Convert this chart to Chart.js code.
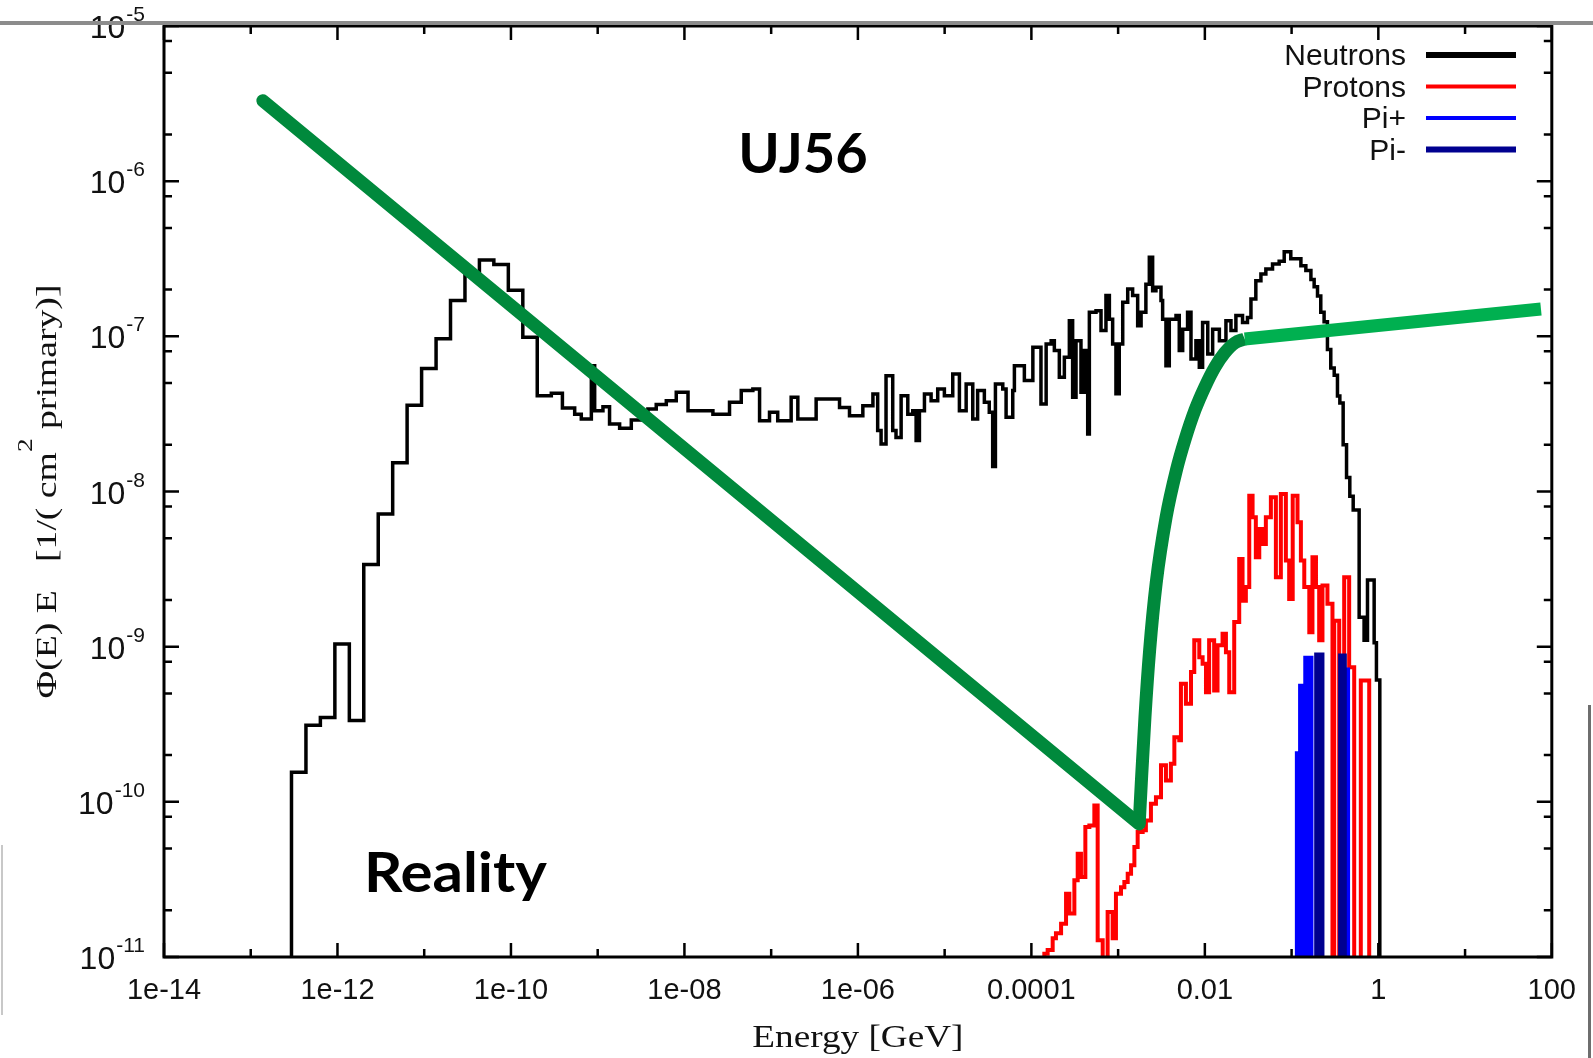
<!DOCTYPE html>
<html>
<head>
<meta charset="utf-8">
<title>UJ56 - energy spectra</title>
<script src="https://cdn.jsdelivr.net/npm/chart.js@4.4.1/dist/chart.umd.min.js"></script>
<style>
  html, body { margin: 0; padding: 0; background: #fff; }
  canvas { display: block; }
</style>
</head>
<body>
<canvas id="spectrum" width="1593" height="1058"></canvas>
<script>
// axis ticks
const energyTicks = [1e-14, 1e-12, 1e-10, 1e-8, 1e-6, 1e-4, 1e-2, 1, 100];
const energyTickLabels = ['1e-14', '1e-12', '1e-10', '1e-08', '1e-06', '0.0001', '0.01', '1', '100'];
const fluxTicks = [1e-11, 1e-10, 1e-9, 1e-8, 1e-7, 1e-6, 1e-5];
const fluxTickExponents = ['-11', '-10', '-9', '-8', '-7', '-6', '-5'];

// neutrons: left bin edge [GeV] and flux of that bin
const neutronEnergy = [
  2.95e-13, 2.95e-13, 4.33e-13, 6.35e-13, 9.33e-13, 1.37e-12, 2.01e-12, 2.95e-12, 4.33e-12, 6.35e-12,
  9.33e-12, 1.37e-11, 2.01e-11, 2.95e-11, 4.33e-11, 6.35e-11, 9.33e-11, 1.37e-10, 2.01e-10, 2.92e-10,
  3.92e-10, 5.43e-10, 6.47e-10, 8.45e-10, 9.23e-10, 1.15e-9, 1.37e-9, 1.79e-9, 2.44e-9, 3.79e-9,
  4.73e-9, 6.18e-9, 8.05e-9, 1.10e-8, 2.13e-8, 3.31e-8, 4.52e-8, 6.15e-8, 7.35e-8, 9.57e-8,
  1.19e-7, 1.70e-7, 2.03e-7, 3.30e-7, 6.14e-7, 8.00e-7, 1.14e-6, 1.49e-6, 1.69e-6, 1.85e-6,
  2.11e-6, 2.52e-6, 2.75e-6, 3.15e-6, 3.76e-6, 4.29e-6, 4.69e-6, 5.12e-6, 5.85e-6, 6.98e-6,
  8.32e-6, 9.93e-6, 1.24e-5, 1.48e-5, 1.77e-5, 2.11e-5, 2.40e-5, 2.87e-5, 3.27e-5, 3.58e-5,
  3.85e-5, 4.68e-5, 5.11e-5, 6.10e-5, 6.37e-5, 8.30e-5, 1.04e-4, 1.29e-4, 1.48e-4, 1.69e-4,
  1.84e-4, 2.10e-4, 2.40e-4, 2.74e-4, 2.99e-4, 3.27e-4, 3.73e-4, 4.08e-4, 4.46e-4, 4.66e-4,
  5.56e-4, 6.35e-4, 7.24e-4, 7.93e-4, 8.65e-4, 9.44e-4, 1.03e-3, 1.13e-3, 1.29e-3, 1.47e-3,
  1.68e-3, 1.84e-3, 2.09e-3, 2.29e-3, 2.50e-3, 2.73e-3, 3.12e-3, 3.26e-3, 3.56e-3, 3.89e-3,
  4.65e-3, 5.07e-3, 5.55e-3, 6.32e-3, 6.92e-3, 7.89e-3, 8.63e-3, 9.42e-3, 1.08e-2, 1.23e-2,
  1.47e-2, 1.75e-2, 2.00e-2, 2.28e-2, 2.72e-2, 3.10e-2, 3.40e-2, 3.87e-2, 4.43e-2, 5.05e-2,
  6.03e-2, 7.19e-2, 8.22e-2, 9.79e-2, 0.128, 0.146, 0.167, 0.182, 0.199, 0.217,
  0.237, 0.259, 0.283, 0.310, 0.338, 0.360, 0.393, 0.430, 0.469, 0.513,
  0.601, 0.685, 0.750, 0.895, 0.951, 1.04
];
const neutronFlux = [
  1e-12, 1.55e-10, 3.12e-10, 3.50e-10, 1.04e-9, 3.34e-10, 3.38e-9, 7.16e-9, 1.53e-8, 3.60e-8,
  6.21e-8, 9.66e-8, 1.70e-7, 2.47e-7, 3.10e-7, 2.90e-7, 1.98e-7, 9.86e-8, 4.14e-8, 4.30e-8,
  3.45e-8, 3.15e-8, 2.93e-8, 6.47e-8, 3.32e-8, 3.52e-8, 2.72e-8, 2.56e-8, 2.89e-8, 3.40e-8,
  3.63e-8, 3.85e-8, 4.36e-8, 3.32e-8, 3.15e-8, 3.76e-8, 4.47e-8, 4.57e-8, 2.86e-8, 3.24e-8,
  2.86e-8, 4.05e-8, 2.93e-8, 3.94e-8, 3.48e-8, 3.08e-8, 3.57e-8, 4.25e-8, 2.47e-8, 2.02e-8,
  5.57e-8, 2.47e-8, 2.23e-8, 4.14e-8, 3.15e-8, 3.32e-8, 2.13e-8, 3.32e-8, 4.25e-8, 3.85e-8,
  4.57e-8, 4.14e-8, 5.71e-8, 3.32e-8, 4.93e-8, 2.93e-8, 4.47e-8, 3.76e-8, 3.24e-8, 1.45e-8,
  4.93e-8, 4.58e-8, 3.01e-8, 4.47e-8, 6.47e-8, 5.19e-8, 8.49e-8, 3.66e-8, 8.93e-8, 9.38e-8,
  8.09e-8, 5.45e-8, 7.33e-8, 1.26e-7, 4.05e-8, 9.38e-8, 4.36e-8, 8.09e-8, 2.35e-8, 1.43e-7,
  1.46e-7, 1.09e-7, 1.83e-7, 1.29e-7, 8.93e-8, 4.26e-8, 8.93e-8, 1.66e-7, 2.02e-7, 1.83e-7,
  1.17e-7, 1.43e-7, 2.17e-7, 3.23e-7, 1.97e-7, 2.07e-7, 1.70e-7, 1.29e-7, 6.47e-8, 1.29e-7,
  1.36e-7, 8.09e-8, 1.11e-7, 1.43e-7, 7.14e-8, 9.38e-8, 6.31e-8, 1.23e-7, 7.69e-8, 1.11e-7,
  9.38e-8, 1.26e-7, 1.09e-7, 1.36e-7, 1.23e-7, 1.32e-7, 1.74e-7, 2.28e-7, 2.52e-7, 2.72e-7,
  2.92e-7, 3.05e-7, 3.51e-7, 3.16e-7, 2.85e-7, 2.66e-7, 2.32e-7, 2.09e-7, 1.82e-7, 1.43e-7,
  1.24e-7, 8.22e-8, 6.24e-8, 5.62e-8, 4.12e-8, 3.72e-8, 2.00e-8, 1.23e-8, 9.33e-9, 7.59e-9,
  1.55e-9, 1.10e-9, 2.69e-9, 1.06e-9, 6.10e-10, 1e-12
];

// protons
const protonEnergy = [
  1.41e-4, 1.41e-4, 1.54e-4, 1.76e-4, 1.92e-4, 2.20e-4, 2.51e-4, 2.74e-4, 3.13e-4, 3.42e-4,
  3.73e-4, 4.19e-4, 4.66e-4, 5.32e-4, 5.81e-4, 6.64e-4, 7.57e-4, 8.65e-4, 9.44e-4, 1.08e-3,
  1.18e-3, 1.29e-3, 1.41e-3, 1.54e-3, 1.68e-3, 1.92e-3, 2.09e-3, 2.39e-3, 2.73e-3, 3.12e-3,
  3.56e-3, 4.06e-3, 4.45e-3, 5.07e-3, 5.30e-3, 6.05e-3, 6.92e-3, 7.55e-3, 8.63e-3, 9.42e-3,
  1.03e-2, 1.12e-2, 1.28e-2, 1.40e-2, 1.60e-2, 1.75e-2, 1.91e-2, 2.18e-2, 2.49e-2, 2.72e-2,
  2.97e-2, 3.25e-2, 3.55e-2, 3.87e-2, 4.24e-2, 4.62e-2, 5.05e-2, 5.77e-2, 6.59e-2, 7.52e-2,
  8.59e-2, 9.38e-2, 0.103, 0.117, 0.128, 0.140, 0.160, 0.174, 0.191, 0.208,
  0.227, 0.259, 0.296, 0.310, 0.354, 0.404, 0.461, 0.527, 0.628, 0.785
];
const protonFlux = [
  5e-12, 1.05e-11, 1.11e-11, 1.32e-11, 1.42e-11, 1.64e-11, 2.56e-11, 1.91e-11, 3.12e-11, 4.63e-11,
  3.28e-11, 6.89e-11, 7.05e-11, 9.48e-11, 1.28e-11, 5e-12, 1.95e-11, 1.32e-11, 2.56e-11, 2.82e-11,
  3.04e-11, 3.44e-11, 3.90e-11, 5.12e-11, 6.38e-11, 6.55e-11, 7.59e-11, 9.72e-11, 1.07e-10, 1.72e-10,
  1.37e-10, 1.76e-10, 2.61e-10, 2.49e-10, 5.77e-10, 4.29e-10, 6.86e-10, 1.10e-9, 8.55e-10, 7.75e-10,
  5.09e-10, 1.10e-9, 5.22e-10, 1.02e-9, 1.21e-9, 9.20e-10, 5.09e-10, 1.44e-9, 3.67e-9, 1.98e-9,
  2.42e-9, 9.40e-9, 6.82e-9, 3.77e-9, 5.74e-9, 4.59e-9, 6.82e-9, 9.18e-9, 2.80e-9, 9.64e-9,
  3.59e-9, 2.03e-9, 9.40e-9, 6.34e-9, 3.59e-9, 2.42e-9, 1.24e-9, 3.77e-9, 2.42e-9, 1.10e-9,
  2.48e-9, 1.89e-9, 5e-12, 1.47e-9, 5e-12, 2.80e-9, 7.38e-10, 5e-12, 6.05e-10, 5e-12
];

// charged pions
const piPlusEnergy = [0.112, 0.112, 0.122, 0.140, 0.174, 0.422, 0.460];
const piPlusFlux = [5e-12, 2.09e-10, 5.69e-10, 8.61e-10, 5e-12, 7.24e-10, 5e-12];
const piMinusEnergy = [0.187, 0.187, 0.233, 0.353, 0.422];
const piMinusFlux = [5e-12, 9.04e-10, 5e-12, 8.91e-10, 5e-12];

// hand-drawn "reality" curve
const dropEnergy = [1.38e-13, 1.75e-3];
const dropFlux = [3.3e-6, 7.2e-11];
const riseEnergy = [1.75e-3, 1.85e-3, 2.04e-3, 2.31e-3, 2.75e-3, 3.58e-3, 4.71e-3, 5.89e-3, 7.71e-3, 1.00e-2, 1.31e-2, 1.69e-2, 2.21e-2, 2.88e-2];
const riseFlux = [7.2e-11, 1.32e-10, 3.53e-10, 9.53e-10, 2.58e-9, 6.86e-9, 1.38e-8, 2.15e-8, 3.36e-8, 4.72e-8, 6.35e-8, 7.82e-8, 9.06e-8, 9.62e-8];
const plateauEnergy = [2.88e-2, 75];
const plateauFlux = [9.62e-8, 1.50e-7];

const points = (xs, ys) => xs.map((v, i) => ({x: v, y: ys[i]}));

const SANS = '"Liberation Sans", Arial, sans-serif';
const SERIF = '"Liberation Serif", "Times New Roman", serif';

const decorations = {
  id: 'decorations',
  afterDraw(chart) {
    const ctx = chart.ctx;
    const a = chart.chartArea;
    const xs = chart.scales.x;
    const ys = chart.scales.y;
    ctx.save();

    // frame and inward ticks
    ctx.strokeStyle = '#000';
    ctx.lineWidth = 3;
    ctx.strokeRect(a.left, a.top, a.right - a.left, a.bottom - a.top);
    ctx.lineWidth = 2.5;
    ctx.beginPath();
    for (let e = -14; e <= 2; e++) {
      const px = xs.getPixelForValue(Math.pow(10, e));
      const len = e % 2 === 0 ? 14 : 8;
      ctx.moveTo(px, a.bottom); ctx.lineTo(px, a.bottom - len);
      ctx.moveTo(px, a.top); ctx.lineTo(px, a.top + len);
    }
    for (let e = -11; e <= -5; e++) {
      const py = ys.getPixelForValue(Math.pow(10, e));
      ctx.moveTo(a.left, py); ctx.lineTo(a.left + 15, py);
      ctx.moveTo(a.right, py); ctx.lineTo(a.right - 15, py);
      if (e < -5) {
        for (const m of [2, 5, 8]) {
          const pm = ys.getPixelForValue(m * Math.pow(10, e));
          ctx.moveTo(a.left, pm); ctx.lineTo(a.left + 8, pm);
          ctx.moveTo(a.right, pm); ctx.lineTo(a.right - 8, pm);
        }
      }
    }
    ctx.stroke();

    // y tick labels 10^n
    ctx.fillStyle = '#111';
    ctx.textAlign = 'right';
    ctx.textBaseline = 'alphabetic';
    fluxTicks.forEach((v, i) => {
      const py = ys.getPixelForValue(v);
      ctx.font = '21px ' + SANS;
      const ew = ctx.measureText(fluxTickExponents[i]).width;
      ctx.fillText(fluxTickExponents[i], 145, py - 5);
      ctx.font = '32px ' + SANS;
      ctx.fillText('10', 144 - ew, py + 12);
    });

    // y axis title
    ctx.save();
    ctx.translate(56, (a.top + a.bottom) / 2);
    ctx.rotate(-Math.PI / 2);
    ctx.scale(1.3, 1);
    ctx.textAlign = 'left';
    const t1 = '\u03A6(E) E   [1/( cm';
    const t2 = ' primary)]';
    ctx.font = '29px ' + SERIF;
    const w1 = ctx.measureText(t1).width;
    const w3 = ctx.measureText(t2).width;
    ctx.font = '21px ' + SERIF;
    const w2 = ctx.measureText('2').width;
    const tx = -(w1 + w2 + w3) / 2;
    ctx.font = '29px ' + SERIF;
    ctx.fillText(t1, tx, 0);
    ctx.font = '21px ' + SERIF;
    ctx.fillText('2', tx + w1, -24);
    ctx.font = '29px ' + SERIF;
    ctx.fillText(t2, tx + w1 + w2, 0);
    ctx.restore();

    // x axis title
    ctx.save();
    ctx.translate((a.left + a.right) / 2, 1047);
    ctx.scale(1.2, 1);
    ctx.textAlign = 'center';
    ctx.font = '31px ' + SERIF;
    ctx.fillText('Energy [GeV]', 0, 0);
    ctx.restore();

    // legend
    ctx.textAlign = 'right';
    ctx.font = '30px ' + SANS;
    chart.data.datasets.filter(d => d.inLegend).forEach((d, i) => {
      const ly = 55 + i * 31.5;
      ctx.fillStyle = '#111';
      ctx.fillText(d.label, 1406, ly + 10);
      ctx.strokeStyle = d.borderColor;
      ctx.lineWidth = d.legendWidth;
      ctx.beginPath();
      ctx.moveTo(1426, ly);
      ctx.lineTo(1516, ly);
      ctx.stroke();
    });

    // annotations
    ctx.fillStyle = '#000';
    ctx.font = 'bold 56px Lato, "Open Sans", sans-serif';
    ctx.textAlign = 'center';
    ctx.fillText('UJ56', 803, 173);
    ctx.save();
    ctx.translate(364, 892);
    ctx.scale(1.07, 1);
    ctx.textAlign = 'left';
    ctx.fillText('Reality', 0, 0);
    ctx.restore();

    // slide edges
    ctx.fillStyle = '#8c8c8c';
    ctx.fillRect(0, 21, chart.width, 4);
    ctx.fillStyle = '#6e6e6e';
    ctx.fillRect(1588, 705, 3, chart.height - 705);
    ctx.fillStyle = '#c8c8c8';
    ctx.fillRect(1, 845, 2, 170);
    ctx.restore();
  }
};

new Chart(document.getElementById('spectrum').getContext('2d'), {
  type: 'line',
  data: {
    datasets: [{
      label: 'Neutrons',
      data: points(neutronEnergy, neutronFlux),
      borderColor: '#000000',
      borderWidth: 3.5,
      stepped: true,
      order: 5,
      inLegend: true,
      legendWidth: 6
    }, {
      label: 'Protons',
      data: points(protonEnergy, protonFlux),
      borderColor: '#ff0000',
      borderWidth: 4,
      stepped: true,
      order: 4,
      inLegend: true,
      legendWidth: 4
    }, {
      label: 'Pi+',
      data: points(piPlusEnergy, piPlusFlux),
      borderColor: '#0000ff',
      backgroundColor: '#0000ff',
      borderWidth: 2,
      stepped: true,
      fill: 'start',
      order: 3,
      inLegend: true,
      legendWidth: 4
    }, {
      label: 'Pi-',
      data: points(piMinusEnergy, piMinusFlux),
      borderColor: '#000090',
      backgroundColor: '#000090',
      borderWidth: 2,
      stepped: true,
      fill: 'start',
      order: 2,
      inLegend: true,
      legendWidth: 6
    }, {
      label: 'reality drop',
      data: points(dropEnergy, dropFlux),
      borderColor: '#00893c',
      borderWidth: 13,
      borderCapStyle: 'round',
      order: 1
    }, {
      label: 'reality rise',
      data: points(riseEnergy, riseFlux),
      borderColor: '#00893c',
      borderWidth: 13,
      cubicInterpolationMode: 'monotone',
      order: 1
    }, {
      label: 'reality plateau',
      data: points(plateauEnergy, plateauFlux),
      borderColor: '#00b050',
      borderWidth: 13,
      order: 0
    }]
  },
  options: {
    responsive: false,
    animation: false,
    events: [],
    layout: { padding: { top: 26, right: 40, left: 0, bottom: 0 } },
    elements: { point: { radius: 0 } },
    scales: {
      x: {
        type: 'logarithmic',
        min: 1e-14,
        max: 100,
        afterBuildTicks: scale => { scale.ticks = energyTicks.map(v => ({ value: v })); },
        afterFit: scale => { scale.height = 101; },
        ticks: {
          autoSkip: false,
          maxRotation: 0,
          minRotation: 0,
          padding: 17,
          color: '#111',
          font: { family: SANS, size: 29 },
          callback: (value, index) => energyTickLabels[index]
        },
        grid: { display: false, drawTicks: false },
        border: { display: false }
      },
      y: {
        type: 'logarithmic',
        min: 1e-11,
        max: 1e-5,
        afterFit: scale => { scale.width = 164; },
        ticks: { display: false },
        grid: { display: false, drawTicks: false },
        border: { display: false }
      }
    },
    plugins: {
      legend: { display: false },
      tooltip: { enabled: false }
    }
  },
  plugins: [decorations]
});
</script>
</body>
</html>
